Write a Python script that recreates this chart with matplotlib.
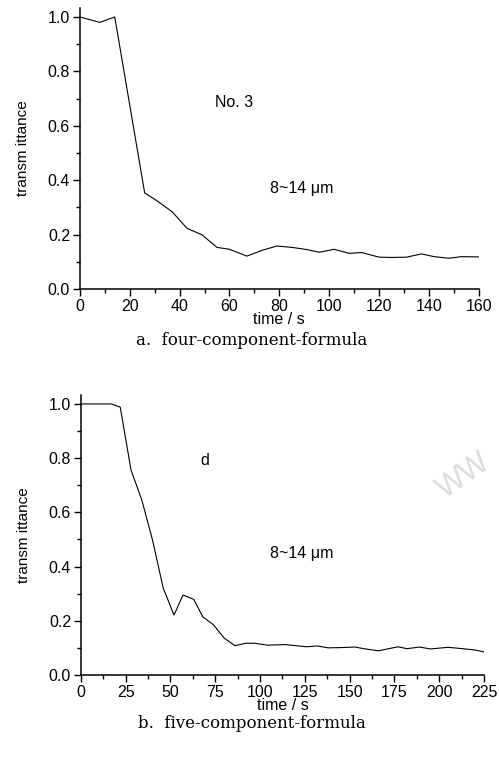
import matplotlib
matplotlib.use("Agg")
import matplotlib.pyplot as plt
from matplotlib.ticker import MultipleLocator

plt.rcParams["font.family"] = ["Liberation Sans", "DejaVu Sans"]

# panel a: four-component formula
time_a = [0, 8, 14, 26, 31, 37, 43, 49, 55, 60, 67, 73, 79, 85, 91, 96, 102,
          108, 113, 120, 125, 131, 137, 142, 148, 153, 160]
trans_a = [1.0, 0.98, 1.0, 0.353, 0.324, 0.284, 0.223, 0.199, 0.153, 0.146,
           0.121, 0.142, 0.158, 0.153, 0.145, 0.135, 0.146, 0.131, 0.134,
           0.117, 0.116, 0.117, 0.129, 0.119, 0.113, 0.119, 0.118]

# panel b: five-component formula
time_b = [0, 17, 22, 28, 34, 40, 46, 52, 57, 63, 68, 74, 80, 86, 92, 97, 104,
          114, 126, 132, 138, 145, 153, 158, 166, 177, 182, 189, 195, 205,
          213, 220, 225]
trans_b = [1.0, 1.0, 0.988, 0.756, 0.646, 0.498, 0.32, 0.221, 0.295, 0.279,
           0.215, 0.185, 0.136, 0.108, 0.117, 0.117, 0.11, 0.112, 0.104,
           0.107, 0.1, 0.101, 0.103, 0.097, 0.089, 0.104, 0.097, 0.103,
           0.096, 0.102, 0.097, 0.092, 0.085]


def style_axes(ax, xmax, xmajor):
    ax.set_xlim(0, xmax)
    ax.set_ylim(0, 1.033)
    for side in ("top", "right"):
        ax.spines[side].set_visible(False)
    for side in ("left", "bottom"):
        ax.spines[side].set_linewidth(1.1)
    ax.xaxis.set_major_locator(MultipleLocator(xmajor))
    ax.xaxis.set_minor_locator(MultipleLocator(xmajor / 2))
    ax.yaxis.set_major_locator(MultipleLocator(0.2))
    ax.yaxis.set_minor_locator(MultipleLocator(0.1))
    ax.yaxis.set_major_formatter(lambda v, p: f"{v:.1f}")
    ax.tick_params(which="major", direction="out", length=5, width=1.0,
                   labelsize=11.5, pad=2)
    ax.tick_params(which="minor", direction="out", length=3, width=1.0)
    ax.set_xlabel("time / s", fontsize=11.5, labelpad=-1)
    ax.set_ylabel("transm ittance", fontsize=11, labelpad=13)


fig = plt.figure(figsize=(4.99, 7.67), dpi=100)

ax1 = fig.add_axes([0.160, 0.6232, 0.7996, 0.3664])
ax1.plot(time_a, trans_a, color="black", lw=0.8)
style_axes(ax1, 160, 20)
ax1.text(62, 0.685, "No. 3", fontsize=11.5, ha="center", va="center")
ax1.text(89, 0.37, "8~14 μm", fontsize=11.5, ha="center", va="center")

ax2 = fig.add_axes([0.162, 0.120, 0.808, 0.365])
ax2.plot(time_b, trans_b, color="black", lw=0.8)
style_axes(ax2, 225, 25)
ax2.text(69, 0.79, "d", fontsize=11.5, ha="center", va="center")
ax2.text(123, 0.45, "8~14 μm", fontsize=11.5, ha="center", va="center")

fig.text(0.505, 1 - 341 / 767, "a.  four-component-formula", ha="center",
         va="center", fontsize=12, family=["DejaVu Serif"])
fig.text(0.505, 1 - 723 / 767, "b.  five-component-formula", ha="center",
         va="center", fontsize=12, family=["DejaVu Serif"])
fig.text(0.93, 0.38, "WW", ha="center", va="center", fontsize=22,
         color="#dcdcdc", rotation=35, zorder=0)

fig.savefig("out.png", dpi=100)
